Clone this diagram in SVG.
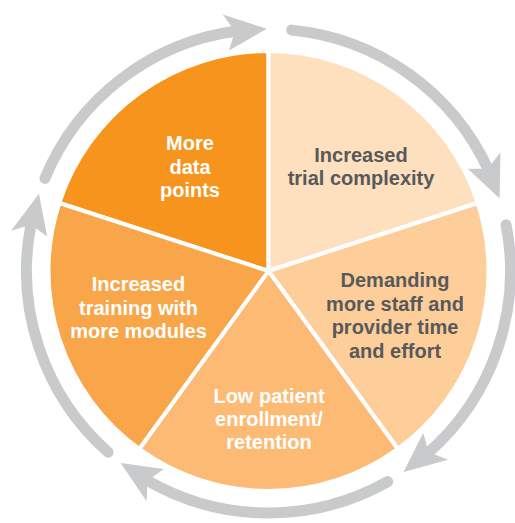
<svg xmlns="http://www.w3.org/2000/svg" xmlns:xlink="http://www.w3.org/1999/xlink" width="515" height="523" viewBox="0 0 515 523">
<style>
.slice{stroke:#ffffff;stroke-width:4;stroke-linejoin:round}
.t{font-family:"Liberation Sans",Arial,Helvetica,sans-serif;font-weight:bold;font-size:20px;text-anchor:middle}
.w{fill:#ffffff}
.d{fill:#58595b}
.ring{fill:none;stroke:#c9cacc;stroke-width:11;stroke-linecap:round}
.head{fill:#c9cacc}
</style>
<defs>
<g id="arr">
<path class="ring" d="M 44.92 178.39 A 242 242 0 0 1 236.91 31.07"/>
<polygon class="head" points="222.8,14.5 266.8,28.8 229.0,50.5 234.82,31.35"/>
</g>
</defs>
<rect width="515" height="523" fill="#ffffff"/>
<g id="connectors">
<use xlink:href="#arr" href="#arr"/>
<use xlink:href="#arr" href="#arr" transform="rotate(73 268.5 271)"/>
<use xlink:href="#arr" href="#arr" transform="rotate(146.5 268.5 271)"/>
<use xlink:href="#arr" href="#arr" transform="rotate(218 268.5 271)"/>
<use xlink:href="#arr" href="#arr" transform="rotate(289 268.5 271)"/>
</g>
<g id="node-more-data-points">
<path class="slice" fill="#f7941d" d="M 268.5 271 L 59.27 203.02 A 220 220 0 0 1 268.5 51 Z"/>
<text class="t w"><tspan x="190" y="150">More</tspan><tspan x="190" y="173.5">data</tspan><tspan x="190" y="197">points</tspan></text>
</g>
<g id="node-trial-complexity">
<path class="slice" fill="#fee0bf" d="M 268.5 271 L 268.5 51 A 220 220 0 0 1 477.73 203.02 Z"/>
<text class="t d"><tspan x="361" y="162">Increased</tspan><tspan x="361" y="185">trial complexity</tspan></text>
</g>
<g id="node-demanding">
<path class="slice" fill="#fdce9a" d="M 268.5 271 L 477.73 203.02 A 220 220 0 0 1 397.81 448.98 Z"/>
<text class="t d"><tspan x="395" y="287">Demanding</tspan><tspan x="395" y="310.5">more staff and</tspan><tspan x="395" y="334">provider time</tspan><tspan x="395" y="357.5">and effort</tspan></text>
</g>
<g id="node-low-patient">
<path class="slice" fill="#fdba75" d="M 268.5 271 L 397.81 448.98 A 220 220 0 0 1 139.19 448.98 Z"/>
<text class="t w"><tspan x="269" y="403">Low patient</tspan><tspan x="269" y="426">enrollment/</tspan><tspan x="269" y="449">retention</tspan></text>
</g>
<g id="node-training">
<path class="slice" fill="#f9a64a" d="M 268.5 271 L 139.19 448.98 A 220 220 0 0 1 59.27 203.02 Z"/>
<text class="t w"><tspan x="138.5" y="291">Increased</tspan><tspan x="138.5" y="314.5">training with</tspan><tspan x="138.5" y="338">more modules</tspan></text>
</g>
</svg>
